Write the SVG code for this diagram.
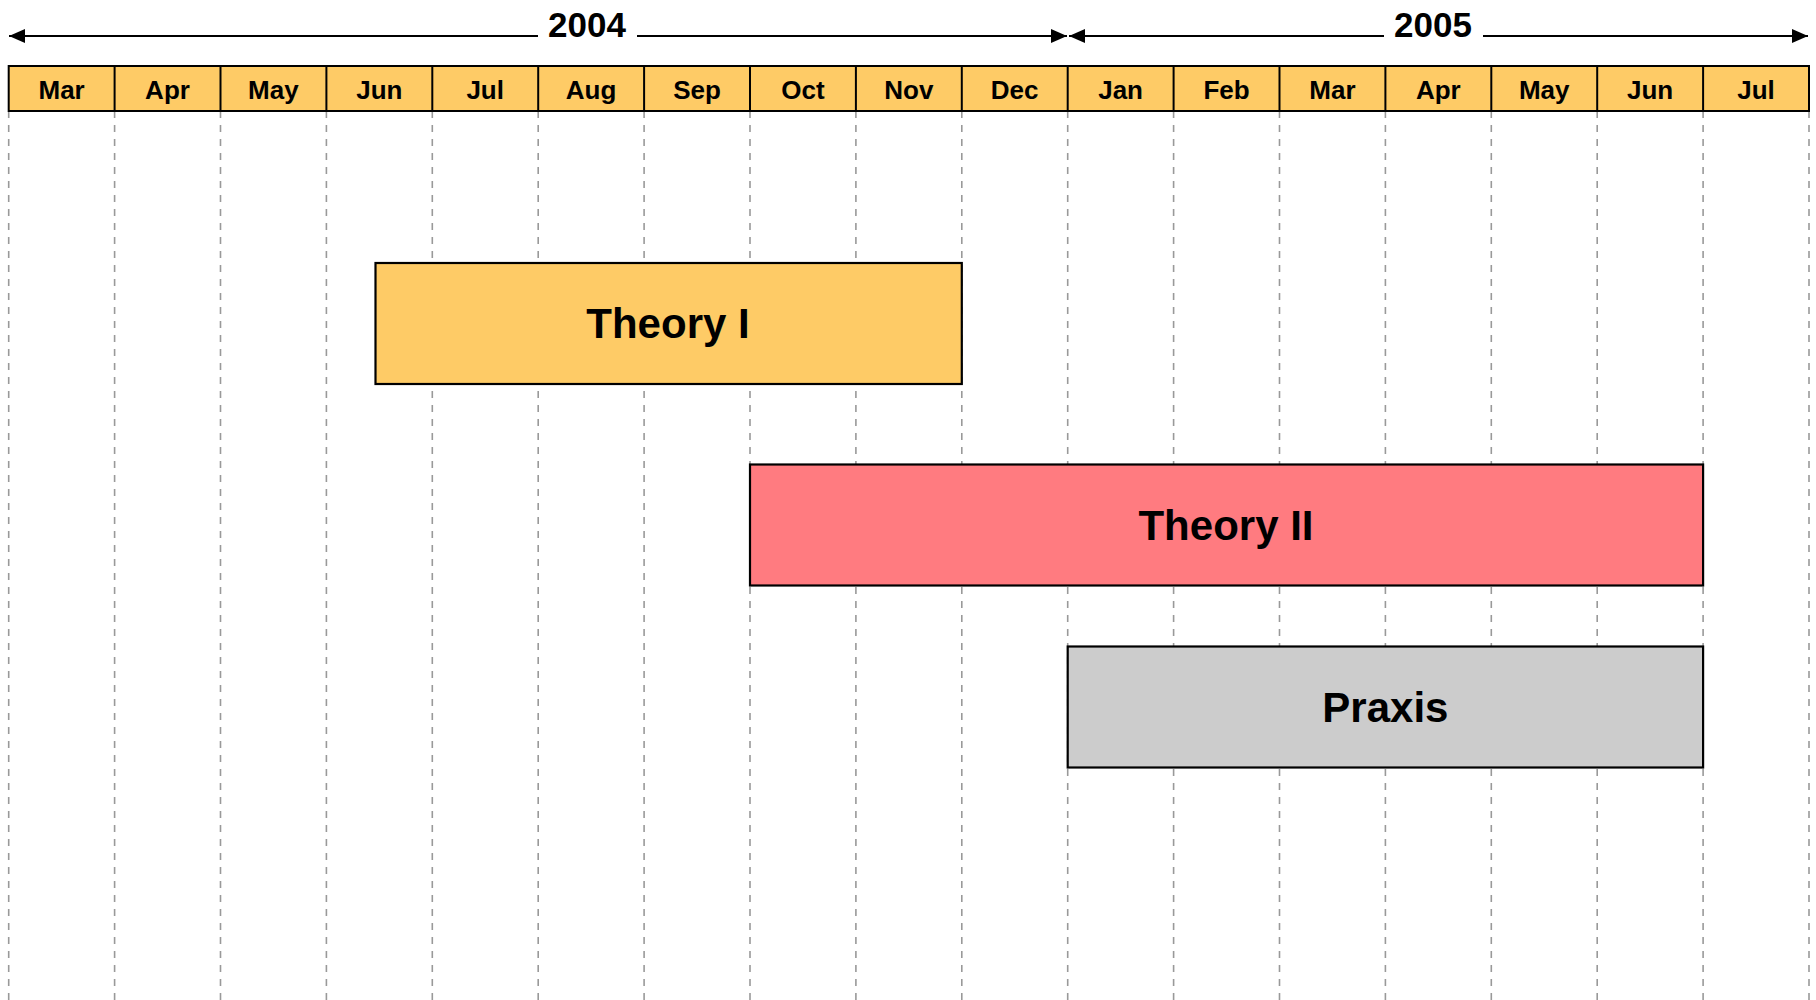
<svg xmlns="http://www.w3.org/2000/svg" width="1816" height="1000" viewBox="0 0 1816 1000">
<defs>
<style>
.t{font-family:"Liberation Sans",Arial,sans-serif;font-weight:bold;fill:#000;text-anchor:middle}
.m{font-size:26px}
.y{font-size:35px}
.b{font-size:42px}
.grid line{stroke:#999;stroke-width:1.6;stroke-dasharray:7 7}
.hdr{fill:#FECB66;stroke:#000;stroke-width:2}
.box{stroke:#000;stroke-width:2.2}
.axis{stroke:#000;stroke-width:2;fill:none}
</style>
<marker id="ah" viewBox="0 0 16 14" refX="16" refY="7" markerWidth="16" markerHeight="14" markerUnits="userSpaceOnUse" orient="auto-start-reverse">
<path d="M0,0 L16,7 L0,14 Z" fill="#000"/>
</marker>
</defs>
<rect width="1816" height="1000" fill="#fff"/>
<g id="grid" class="grid">
<line x1="8.7" y1="111" x2="8.7" y2="1000"/>
<line x1="114.6" y1="111" x2="114.6" y2="1000"/>
<line x1="220.5" y1="111" x2="220.5" y2="1000"/>
<line x1="326.4" y1="111" x2="326.4" y2="1000"/>
<line x1="432.3" y1="111" x2="432.3" y2="1000"/>
<line x1="538.2" y1="111" x2="538.2" y2="1000"/>
<line x1="644.1" y1="111" x2="644.1" y2="1000"/>
<line x1="750" y1="111" x2="750" y2="1000"/>
<line x1="855.9" y1="111" x2="855.9" y2="1000"/>
<line x1="961.8" y1="111" x2="961.8" y2="1000"/>
<line x1="1067.7" y1="111" x2="1067.7" y2="1000"/>
<line x1="1173.6" y1="111" x2="1173.6" y2="1000"/>
<line x1="1279.5" y1="111" x2="1279.5" y2="1000"/>
<line x1="1385.4" y1="111" x2="1385.4" y2="1000"/>
<line x1="1491.3" y1="111" x2="1491.3" y2="1000"/>
<line x1="1597.2" y1="111" x2="1597.2" y2="1000"/>
<line x1="1703.1" y1="111" x2="1703.1" y2="1000"/>
<line x1="1809" y1="111" x2="1809" y2="1000"/>
</g>
<g id="connectors">
<line class="axis" x1="538" y1="36" x2="9" y2="36" marker-end="url(#ah)"/>
<line class="axis" x1="637" y1="36" x2="1067" y2="36" marker-end="url(#ah)"/>
<line class="axis" x1="1384" y1="36" x2="1069" y2="36" marker-end="url(#ah)"/>
<line class="axis" x1="1483" y1="36" x2="1808" y2="36" marker-end="url(#ah)"/>
</g>
<g id="year-2004"><text class="t y" x="587" y="37">2004</text></g>
<g id="year-2005"><text class="t y" x="1433" y="37">2005</text></g>
<g id="header">
<rect class="hdr" x="8.7" y="66" width="1800.3" height="45"/>
<g class="axis">
<line x1="114.6" y1="66" x2="114.6" y2="111"/>
<line x1="220.5" y1="66" x2="220.5" y2="111"/>
<line x1="326.4" y1="66" x2="326.4" y2="111"/>
<line x1="432.3" y1="66" x2="432.3" y2="111"/>
<line x1="538.2" y1="66" x2="538.2" y2="111"/>
<line x1="644.1" y1="66" x2="644.1" y2="111"/>
<line x1="750" y1="66" x2="750" y2="111"/>
<line x1="855.9" y1="66" x2="855.9" y2="111"/>
<line x1="961.8" y1="66" x2="961.8" y2="111"/>
<line x1="1067.7" y1="66" x2="1067.7" y2="111"/>
<line x1="1173.6" y1="66" x2="1173.6" y2="111"/>
<line x1="1279.5" y1="66" x2="1279.5" y2="111"/>
<line x1="1385.4" y1="66" x2="1385.4" y2="111"/>
<line x1="1491.3" y1="66" x2="1491.3" y2="111"/>
<line x1="1597.2" y1="66" x2="1597.2" y2="111"/>
<line x1="1703.1" y1="66" x2="1703.1" y2="111"/>
</g>
<g class="t m">
<text x="61.6" y="99">Mar</text>
<text x="167.5" y="99">Apr</text>
<text x="273.4" y="99">May</text>
<text x="379.3" y="99">Jun</text>
<text x="485.2" y="99">Jul</text>
<text x="591.1" y="99">Aug</text>
<text x="697" y="99">Sep</text>
<text x="802.9" y="99">Oct</text>
<text x="908.8" y="99">Nov</text>
<text x="1014.7" y="99">Dec</text>
<text x="1120.6" y="99">Jan</text>
<text x="1226.5" y="99">Feb</text>
<text x="1332.4" y="99">Mar</text>
<text x="1438.3" y="99">Apr</text>
<text x="1544.2" y="99">May</text>
<text x="1650.1" y="99">Jun</text>
<text x="1756" y="99">Jul</text>
</g>
</g>
<g id="theory-1">
<rect class="box" x="375.5" y="263" width="586.3" height="121" fill="#FECB66"/>
<text class="t b" x="668" y="338">Theory I</text>
</g>
<g id="theory-2">
<rect class="box" x="750" y="464.5" width="953.1" height="121" fill="#FF7B80"/>
<text class="t b" x="1226" y="540">Theory II</text>
</g>
<g id="praxis">
<rect class="box" x="1067.7" y="646.5" width="635.4" height="121" fill="#CCCCCC"/>
<text class="t b" x="1385.4" y="722">Praxis</text>
</g>
</svg>
